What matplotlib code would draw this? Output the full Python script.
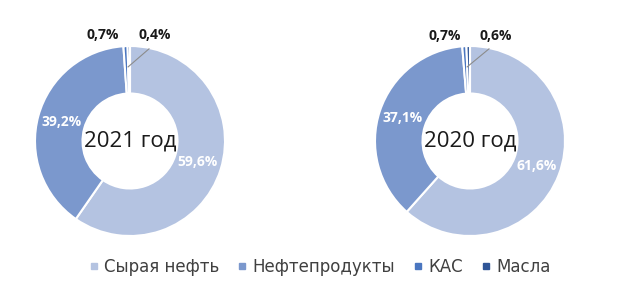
import numpy as np
import matplotlib.pyplot as plt
from matplotlib.lines import Line2D

plt.rcParams['font.family'] = ['Open Sans', 'DejaVu Sans']

categories = ['Сырая нефть', 'Нефтепродукты', 'КАС', 'Масла']
colors = ['#b4c3e1', '#7b98cd', '#4a76c0', '#2f5597']
years = ['2021 год', '2020 год']
values_2021 = [59.6, 39.2, 0.7, 0.4]
values_2020 = [61.6, 37.1, 0.7, 0.6]

fig = plt.figure(figsize=(6.2, 3.03), dpi=100)
fig.patch.set_facecolor('white')

r_px = 95
centers = [(130, 141), (470, 141)]
small_pos = [[(-0.29, 1.12), (0.26, 1.12)], [(-0.27, 1.10), (0.27, 1.10)]]
leader = [((-0.02, 0.78), (0.2, 0.97)), ((-0.03, 0.78), (0.2, 0.97))]

for (cx, cy), vals, yr, sp, ld in zip(centers, [values_2021, values_2020], years, small_pos, leader):
    ax = fig.add_axes([(cx - r_px) / 620, 1 - (cy + r_px) / 303, 2 * r_px / 620, 2 * r_px / 303])
    wedges, _ = ax.pie(vals, colors=colors, startangle=90, counterclock=False,
                       wedgeprops=dict(width=0.5, edgecolor='white', linewidth=1.5))
    ax.set_xlim(-1, 1)
    ax.set_ylim(-1, 1)
    ax.set_aspect('auto')
    ax.axis('off')
    # big shares: labels inside the ring
    for w, v in zip(wedges[:2], vals[:2]):
        ang = np.deg2rad((w.theta1 + w.theta2) / 2)
        ax.text(0.75 * np.cos(ang), 0.75 * np.sin(ang), f'{v:.1f}%'.replace('.', ','),
                ha='center', va='center', color='white', fontsize=10, fontweight='bold')
    # small shares: labels above the ring
    for (tx, ty), v in zip(sp, vals[2:]):
        ax.text(tx, ty, f'{v:.1f}%'.replace('.', ','), ha='center', va='center',
                color='#1a1a1a', fontsize=10, fontweight='bold', clip_on=False)
    ax.plot([ld[0][0], ld[1][0]], [ld[0][1], ld[1][1]], color='#8c8c8c', lw=0.8, clip_on=False)
    ax.text(0, 0, yr, ha='center', va='center', fontsize=16, color='#1a1a1a')

handles = [Line2D([], [], marker='s', linestyle='none', markersize=5,
                  markerfacecolor=c, markeredgecolor=c) for c in colors]
fig.legend(handles, categories, loc='center', bbox_to_anchor=(0.513, 0.118), ncol=4,
           frameon=False, prop={'family': 'DejaVu Sans', 'size': 12}, labelcolor='#404040',
           handletextpad=0.1, columnspacing=0.9, handlelength=1.0)

fig.savefig('out.png', dpi=100, facecolor='white')
